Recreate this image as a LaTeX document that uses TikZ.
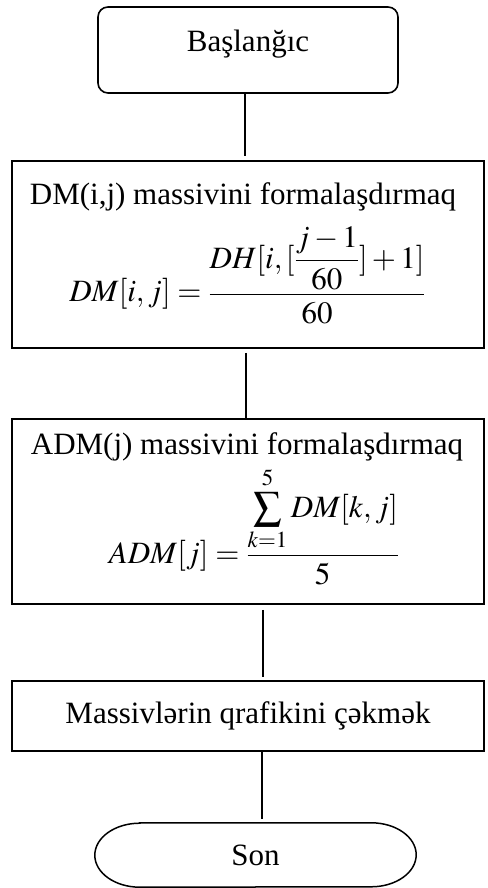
\documentclass[tikz,border=0pt]{standalone}
\usepackage{amsmath}
\usepackage{mathptmx}
\usepackage{fontspec}
\setmainfont{Liberation Serif}
\usepackage{tikz}
\usetikzlibrary{positioning}

\tikzset{
  bigtext/.style={font=\fontsize{31}{37}\selectfont},
  intext/.style={bigtext, inner sep=0pt},
  startbox/.style={draw, line width=1.6pt, rounded corners=10pt, minimum width=300pt, inner sep=0pt, bigtext},
  blockbox/.style={draw, line width=1.6pt, minimum width=472pt, inner sep=0pt},
  flowline/.style={line width=1.5pt}
}
% sum sign a bit smaller than display size
\newcommand{\midsum}{\mathop{\vcenter{\hbox{\scalebox{0.9}{$\displaystyle\sum$}}}}}

\begin{document}
\begin{tikzpicture}[x=1pt, y=1pt]
  \useasboundingbox (0,0) rectangle (487,888);

  % start
  \node[startbox, text height=45pt, text depth=41pt, anchor=base] (start) at (248,836) {Başlanğıc};

  % DM block
  \node[blockbox, minimum height=187pt] (dm) at (248,633.5) {};
  \node[intext, anchor=base] (dmtitle) at (243,683) {DM(i,j) massivini formalaşdırmaq};
  \node[intext] (dmformula) at (247.5,613)
    {$\displaystyle DM[i,j]=\frac{DH[i,[\dfrac{j-1}{60}]+1]\rule[-16pt]{0pt}{16pt}}{60}$};

  % ADM block
  \node[blockbox, minimum height=185pt] (adm) at (248,376.5) {};
  \node[intext, anchor=base] (admtitle) at (247,433) {ADM(j) massivini formalaşdırmaq};
  \node[intext] (admformula) at (254,362)
    {$\displaystyle ADM[j]=\frac{\midsum\limits_{k=1}^{5} DM[k,j]}{5}$};

  % plot block
  \node[blockbox, minimum height=70pt, bigtext] (mas) at (248,172) {Massivlərin qrafikini çəkmək};

  % end
  \node[bigtext, minimum width=321pt, minimum height=64pt] (son) at (255.5,33) {Son};
  \draw[flowline] ([xshift=45pt]son.north west) -- ([xshift=-45pt]son.north east)
    arc[start angle=90, end angle=-90, x radius=45pt, y radius=32pt]
    -- ([xshift=45pt]son.south west)
    arc[start angle=270, end angle=90, x radius=45pt, y radius=32pt] -- cycle;

  % connectors
  \draw[flowline, shorten >=4pt] ([xshift=-3pt]start.south) -- ([xshift=-3pt]dm.north);
  \draw[flowline, shorten <=4pt] ([xshift=-2pt]dm.south) -- ([xshift=-2pt]adm.north);
  \draw[flowline, shorten <=5pt, shorten >=3pt] ([xshift=15pt]adm.south) -- ([xshift=15pt]mas.north);
  \draw[flowline, shorten >=4pt] ([xshift=14pt]mas.south) -- ([xshift=14pt]mas.south |- son.north);
\end{tikzpicture}
\end{document}
